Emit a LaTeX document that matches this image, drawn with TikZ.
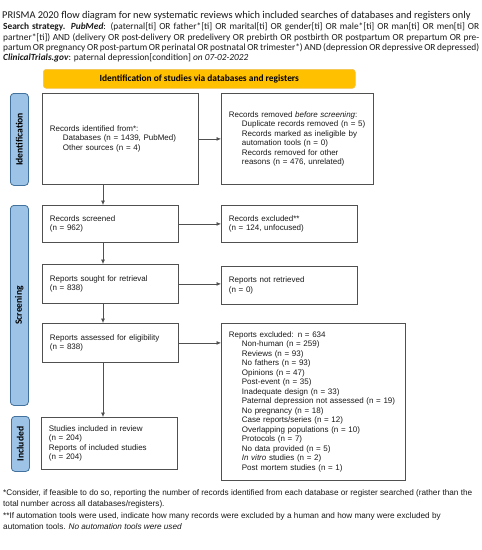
\documentclass[tikz,border=0pt]{standalone}
\usepackage{fontspec}
\setmainfont{Liberation Sans}
\newfontfamily\calfont{Carlito}
\usetikzlibrary{arrows.meta,calc}
\definecolor{orangeh}{HTML}{FFC000}
\definecolor{orangeb}{HTML}{F2C25A}
\definecolor{blueh}{HTML}{9DC3E6}
\definecolor{blueb}{HTML}{41719C}
\definecolor{boxc}{HTML}{505050}
\definecolor{txt}{HTML}{1A1A1A}
\newcommand{\fullline}[1]{\makebox[476pt][s]{#1}}
\tikzset{
  box/.style={draw=boxc, line width=0.8pt, fill=white, inner xsep=7.5pt, inner ysep=0pt,
    align=left, anchor=north west, text=txt, font=\fontsize{8}{9.5}\selectfont},
  header/.style={draw=orangeb, line width=0.6pt, fill=orangeh, rounded corners=3pt, anchor=north west,
    inner sep=0pt, font=\calfont\bfseries\fontsize{9.4}{10}\selectfont},
  sidelab/.style={draw=blueb, line width=0.8pt, fill=blueh, rounded corners=3.5pt, anchor=north west,
    inner sep=0pt, font=\calfont\bfseries\fontsize{9.6}{10}\selectfont},
  arr/.style={draw=boxc, line width=0.7pt, -{Latex[length=4.5pt,width=4pt]}}
}
\begin{document}
\begin{tikzpicture}[x=1pt,y=-1pt]
\useasboundingbox[fill=white] (0,0) rectangle (482,550);
\node[anchor=base west, inner sep=0pt, text=txt] (title) at (2,18)
  {\calfont\fontsize{10.4}{12}\selectfont PRISMA 2020 flow diagram for new systematic reviews which included searches of databases and registers only};
\node[anchor=north west, inner sep=0pt, align=left, text=txt, font=\calfont\fontsize{9.35}{10.3}\selectfont] (search) at (3,22.8)
  {\fullline{\textbf{Search strategy.} \textbf{\textit{PubMed}}: (paternal[ti] OR father*[ti] OR marital[ti] OR gender[ti] OR male*[ti] OR man[ti] OR men[ti] OR}\\
  \fullline{partner*[ti]) AND (delivery OR post-delivery OR predelivery OR prebirth OR postbirth OR postpartum OR prepartum OR pre-}\\
  \fullline{partum OR pregnancy OR post-partum OR perinatal OR postnatal OR trimester*) AND (depression OR depressive OR depressed)}\\
  \textbf{\textit{ClinicalTrials.gov}}: paternal depression[condition] \textit{on 07-02-2022}};

\node[header, minimum width=312pt, minimum height=19pt] (head) at (43,69) {Identification of studies via databases and registers};

\node[sidelab, minimum width=18pt, minimum height=92pt] (lid) at (10,93) {\rotatebox{90}{Identification}};
\node[sidelab, minimum width=18pt, minimum height=200pt] (lscr) at (10,205) {\rotatebox{90}{Screening}};
\node[sidelab, minimum width=18pt, minimum height=55pt] (linc) at (11,416) {\rotatebox{90}{Included}};

\node[box, text width=141pt, minimum height=91pt] (ident) at (42,93)
  {Records identified from*:\\\hspace*{13pt}Databases (n = 1439, PubMed)\\\hspace*{13pt}Other sources (n = 4)};
\node[box, text width=137pt, minimum height=91pt] (removed) at (221,93)
  {Records removed \textit{before screening}:\\\hspace*{13pt}Duplicate records removed (n = 5)\\\hspace*{13pt}Records marked as ineligible by\\\hspace*{13pt}automation tools (n = 0)\\\hspace*{13pt}Records removed for other\\\hspace*{13pt}reasons (n = 476, unrelated)};
\node[box, text width=121pt, minimum height=37pt] (screened) at (42,205)
  {Records screened\\(n = 962)};
\node[box, text width=121pt, minimum height=37pt] (excl) at (221,205)
  {Records excluded**\\(n = 124, unfocused)};
\node[box, text width=121pt, minimum height=39pt] (sought) at (42,264)
  {Reports sought for retrieval\\(n = 838)};
\node[box, text width=121pt, minimum height=38pt] (notret) at (221,266)
  {Reports not retrieved\\(n = 0)};
\node[box, text width=121pt, minimum height=39pt] (assessed) at (42,323)
  {Reports assessed for eligibility\\(n = 838)};
\node[box, text width=169pt, minimum height=157pt] (repexcl) at (221,323)
  {Reports excluded: n = 634\\
  \hspace*{13pt}Non-human (n = 259)\\
  \hspace*{13pt}Reviews (n = 93)\\
  \hspace*{13pt}No fathers (n = 93)\\
  \hspace*{13pt}Opinions (n = 47)\\
  \hspace*{13pt}Post-event (n = 35)\\
  \hspace*{13pt}Inadequate design (n = 33)\\
  \hspace*{13pt}Paternal depression not assessed (n = 19)\\
  \hspace*{13pt}No pregnancy (n = 18)\\
  \hspace*{13pt}Case reports/series (n = 12)\\
  \hspace*{13pt}Overlapping populations (n = 10)\\
  \hspace*{13pt}Protocols (n = 7)\\
  \hspace*{13pt}No data provided (n = 5)\\
  \hspace*{13pt}\textit{In vitro} studies (n = 2)\\
  \hspace*{13pt}Post mortem studies (n = 1)};
\node[box, text width=121pt, minimum height=52pt] (included) at (41,417)
  {Studies included in review\\(n = 204)\\Reports of included studies\\(n = 204)};

\coordinate (vx) at (103,0);
\draw[arr] (ident.east) -- (removed.west);
\draw[arr] (ident.south -| vx) -- (screened.north -| vx);
\draw[arr] (screened.east) -- (excl.west |- screened.east);
\draw[arr] (screened.south -| vx) -- (sought.north -| vx);
\draw[arr] (sought.east) -- (notret.west |- sought.east);
\draw[arr] (sought.south -| vx) -- (assessed.north -| vx);
\draw[arr] (assessed.east) -- (repexcl.west |- assessed.east);
\draw[arr] (assessed.south -| vx) -- (included.north -| vx);

\node[anchor=north west, inner sep=0pt, align=left, text=txt, font=\fontsize{8.2}{11}\selectfont] (fn1) at (3,489.5)
  {*Consider, if feasible to do so, reporting the number of records identified from each database or register searched (rather than the\\total number across all databases/registers).};
\node[anchor=north west, inner sep=0pt, align=left, text=txt, font=\fontsize{8.2}{10.5}\selectfont] (fn2) at (3,512.5)
  {**If automation tools were used, indicate how many records were excluded by a human and how many were excluded by\\automation tools. \textit{No automation tools were used}};
\end{tikzpicture}
\end{document}
